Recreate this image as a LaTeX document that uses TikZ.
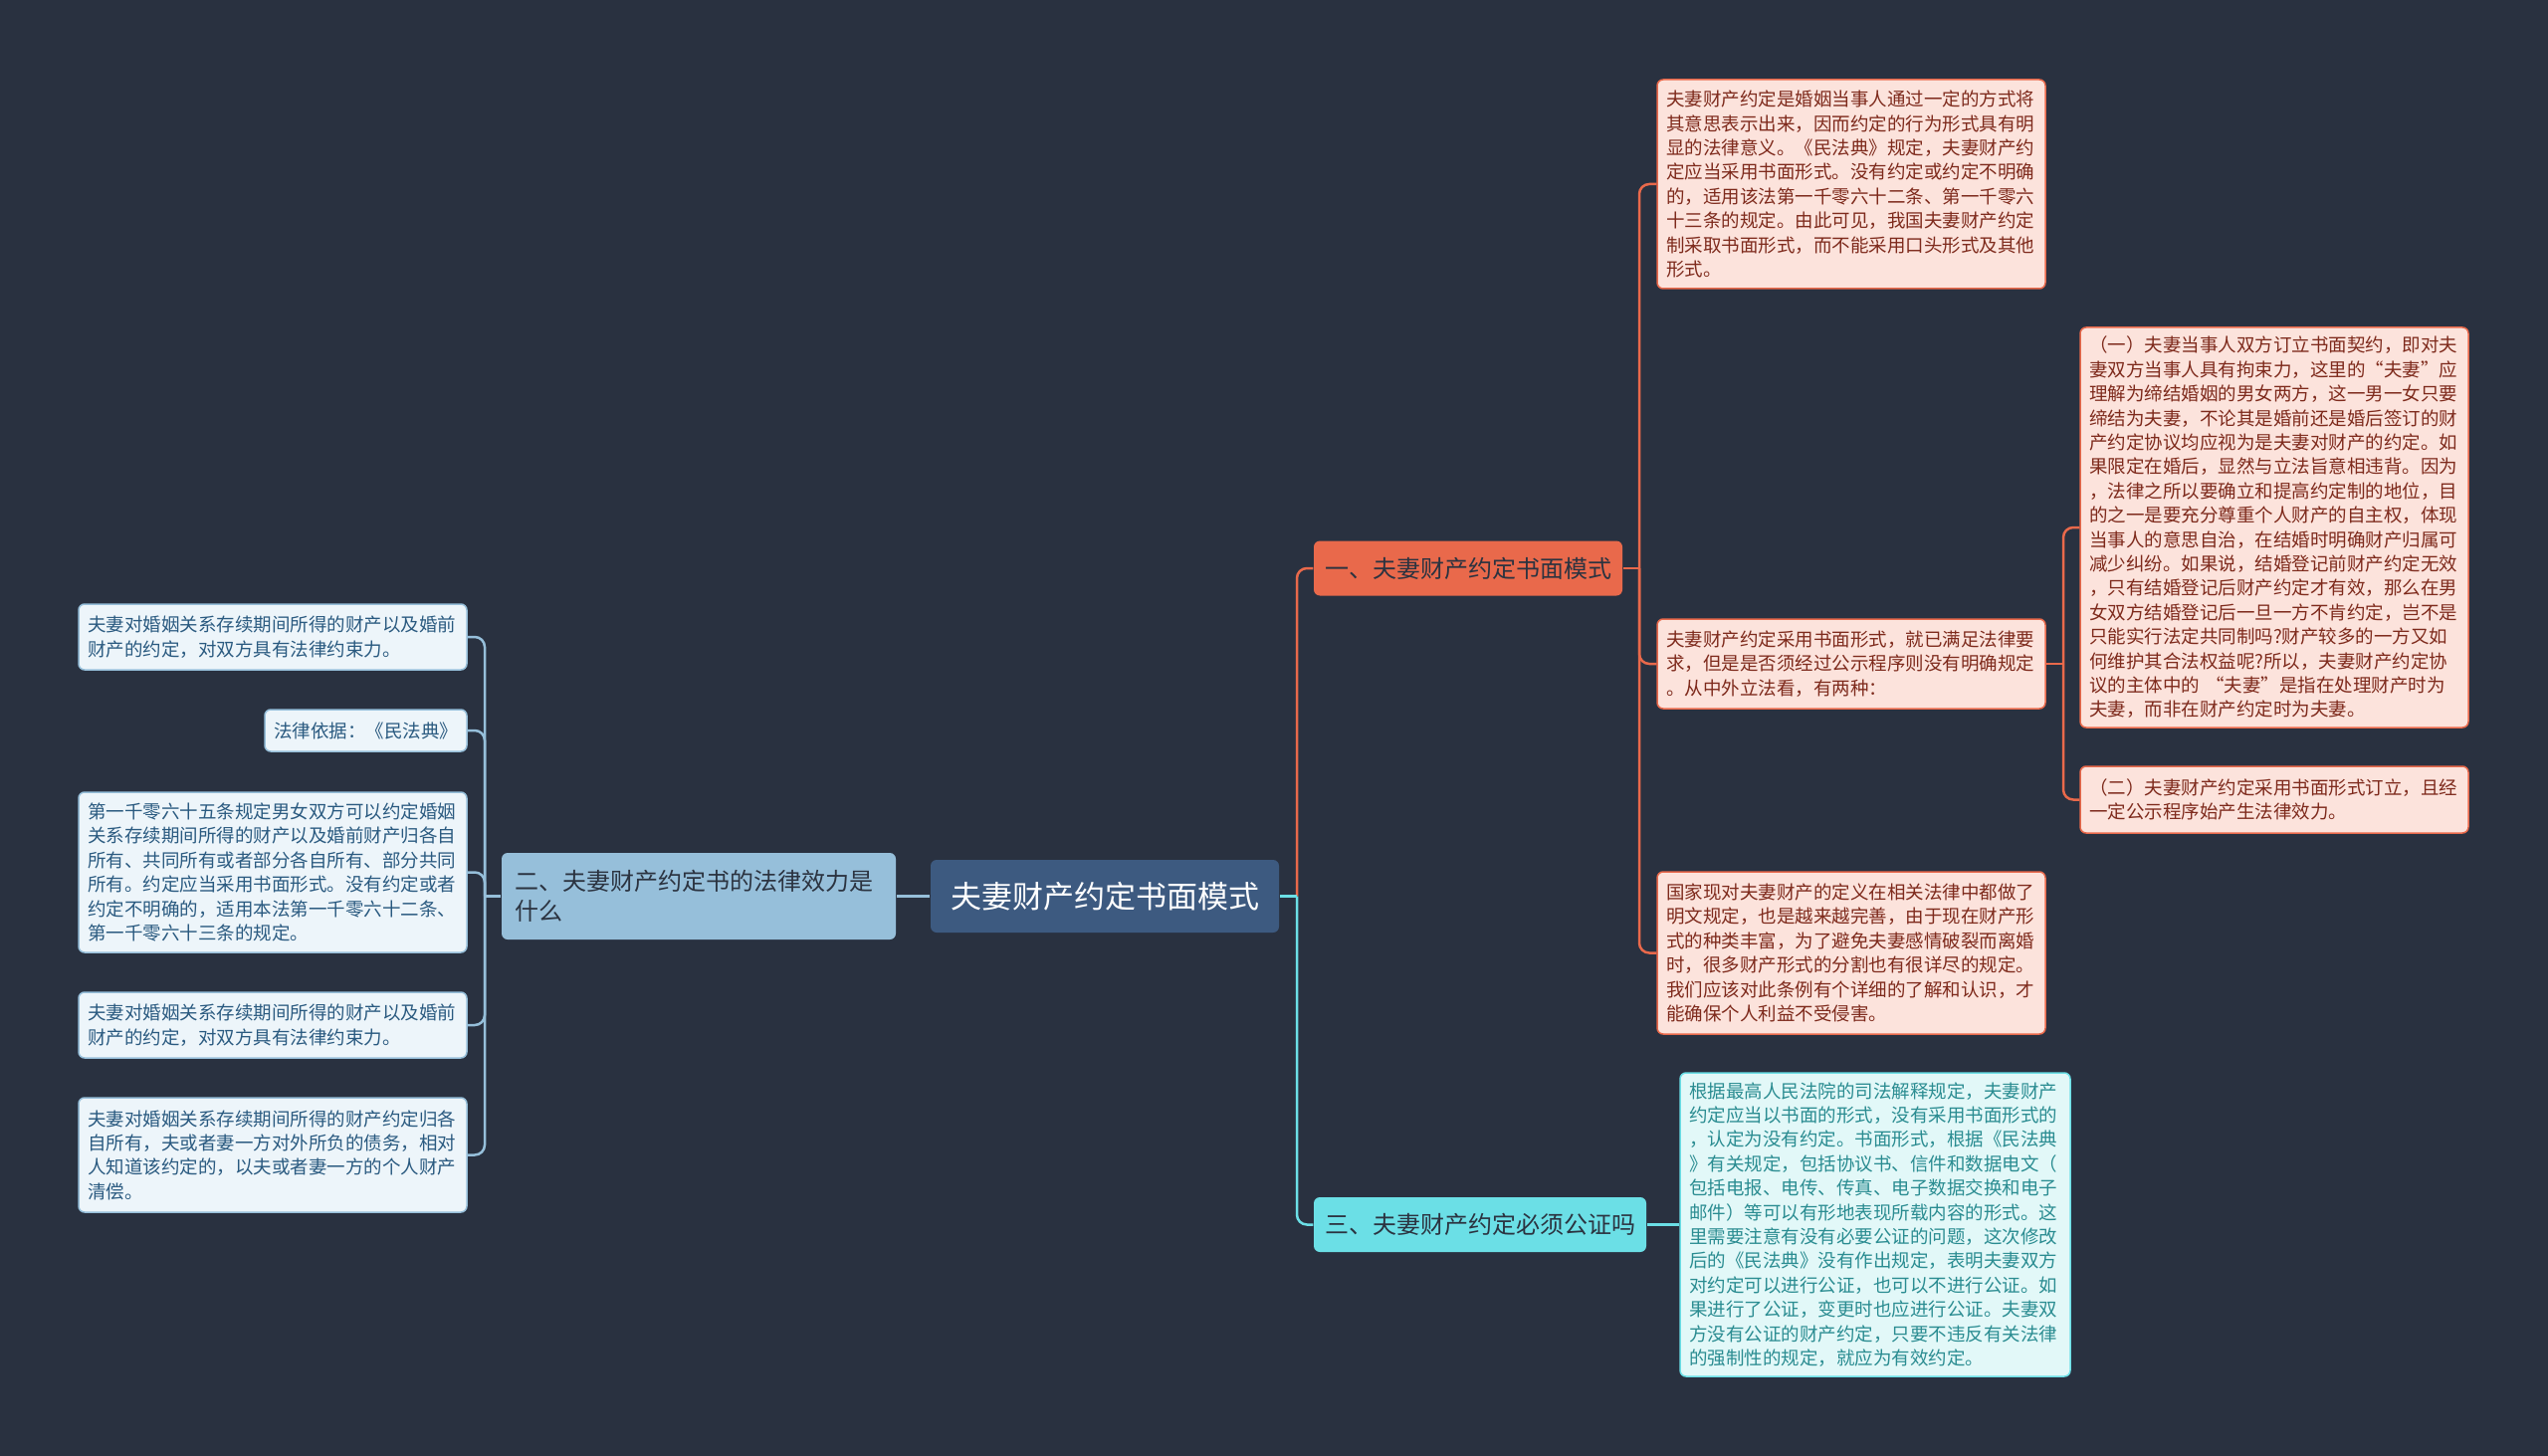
\documentclass[tikz,border=0pt]{standalone}
\usepackage{fontspec}
\setmainfont{Noto Sans CJK SC}
\definecolor{bg}{HTML}{293140}
\definecolor{cmain}{HTML}{3D5A80}
\definecolor{corg}{HTML}{E9694B}
\definecolor{corgL}{HTML}{FCE3DC}
\definecolor{corgT}{HTML}{7E2A1C}
\definecolor{cblu}{HTML}{96BFDA}
\definecolor{cbluL}{HTML}{EDF5FA}
\definecolor{cbluT}{HTML}{2A5A80}
\definecolor{ccya}{HTML}{6BDFE6}
\definecolor{ccyaL}{HTML}{E2F8F8}
\definecolor{ccyaT}{HTML}{2A8C91}
\definecolor{cdark}{HTML}{2B3340}
\newcommand\myleaffont{\fontsize{18.5}{24.4}\selectfont}
\newcommand\mybranchfont{\fontsize{24}{30}\selectfont}
\newcommand\mymainfont{\fontsize{31}{36}\selectfont}
\begin{document}
\begin{tikzpicture}[x=1pt,y=-1pt,
  box/.style={rectangle, rounded corners=6, align=left, inner xsep=9, inner ysep=0, line width=1.5},
  leafO/.style={box, draw=corg, fill=corgL, text=corgT, font=\myleaffont, minimum width=390, text width=372},
  leafB/.style={box, draw=cblu, fill=cbluL, text=cbluT, font=\myleaffont, minimum width=390, text width=372},
  leafC/.style={box, draw=ccya, fill=ccyaL, text=ccyaT, font=\myleaffont, minimum width=392, text width=374},
  mainbox/.style={box, fill=cmain, text=white, font=\mymainfont, align=center, minimum width=350, minimum height=73},
  brO/.style={box, fill=corg, text=cdark, font=\mybranchfont, align=center, minimum width=310, minimum height=55},
  brC/.style={box, fill=ccya, text=cdark, font=\mybranchfont, align=center, minimum width=334, minimum height=55},
  brB/.style={box, fill=cblu, text=cdark, font=\mybranchfont, inner xsep=13, minimum width=396, text width=370, minimum height=87},
  connO/.style={draw=corg, line width=2.5, rounded corners=10},
  connB/.style={draw=cblu, line width=2.5, rounded corners=10},
  connC/.style={draw=ccya, line width=2.5, rounded corners=10}]
\fill[bg] (0,0) rectangle (2560,1463);
\useasboundingbox (0,0) rectangle (2560,1463);

% main and branches
\node[mainbox] (c) at (1110,900.5) {夫妻财产约定书面模式};
\node[brO] (b1) at (1475,571) {一、夫妻财产约定书面模式};
\node[brC] (b3) at (1487,1230.5) {三、夫妻财产约定必须公证吗};
\node[brB] (b2) at (702,900.5) {二、夫妻财产约定书的法律效力是\\什么};

% right leaves of branch 1
\node[leafO, minimum height=210] (l1a) at (1860,185) {夫妻财产约定是婚姻当事人通过一定的方式将\\其意思表示出来，因而约定的行为形式具有明\\显的法律意义。《民法典》规定，夫妻财产约\\定应当采用书面形式。没有约定或约定不明确\\的，适用该法第一千零六十二条、第一千零六\\十三条的规定。由此可见，我国夫妻财产约定\\制采取书面形式，而不能采用口头形式及其他\\形式。};
\node[leafO, minimum height=90] (l1b) at (1860,667) {夫妻财产约定采用书面形式，就已满足法律要\\求，但是是否须经过公示程序则没有明确规定\\。从中外立法看，有两种：};
\node[leafO, minimum height=163] (l1c) at (1860,957.5) {国家现对夫妻财产的定义在相关法律中都做了\\明文规定，也是越来越完善，由于现在财产形\\式的种类丰富，为了避免夫妻感情破裂而离婚\\时，很多财产形式的分割也有很详尽的规定。\\我们应该对此条例有个详细的了解和认识，才\\能确保个人利益不受侵害。};
\node[leafO, minimum height=402] (l1b1) at (2285,530) {（一）夫妻当事人双方订立书面契约，即对夫\\妻双方当事人具有拘束力，这里的“夫妻”应\\理解为缔结婚姻的男女两方，这一男一女只要\\缔结为夫妻，不论其是婚前还是婚后签订的财\\产约定协议均应视为是夫妻对财产的约定。如\\果限定在婚后，显然与立法旨意相违背。因为\\，法律之所以要确立和提高约定制的地位，目\\的之一是要充分尊重个人财产的自主权，体现\\当事人的意思自治，在结婚时明确财产归属可\\减少纠纷。如果说，结婚登记前财产约定无效\\，只有结婚登记后财产约定才有效，那么在男\\女双方结婚登记后一旦一方不肯约定，岂不是\\只能实行法定共同制吗?财产较多的一方又如\\何维护其合法权益呢?所以，夫妻财产约定协\\议的主体中的 “夫妻”是指在处理财产时为\\夫妻，而非在财产约定时为夫妻。};
\node[leafO, minimum height=67] (l1b2) at (2285,803.5) {（二）夫妻财产约定采用书面形式订立，且经\\一定公示程序始产生法律效力。};

% cyan leaf
\node[leafC, minimum height=305] (l3) at (1884,1230.5) {根据最高人民法院的司法解释规定，夫妻财产\\约定应当以书面的形式，没有采用书面形式的\\，认定为没有约定。书面形式，根据《民法典\\》有关规定，包括协议书、信件和数据电文（\\包括电报、电传、传真、电子数据交换和电子\\邮件）等可以有形地表现所载内容的形式。这\\里需要注意有没有必要公证的问题，这次修改\\后的《民法典》没有作出规定，表明夫妻双方\\对约定可以进行公证，也可以不进行公证。如\\果进行了公证，变更时也应进行公证。夫妻双\\方没有公证的财产约定，只要不违反有关法律\\的强制性的规定，就应为有效约定。};

% left leaves
\node[leafB, minimum height=66] (l2a) at (274,640) {夫妻对婚姻关系存续期间所得的财产以及婚前\\财产的约定，对双方具有法律约束力。};
\node[leafB, minimum width=203, text width=185, minimum height=42] (l2b) at (367.5,734) {法律依据：《民法典》};
\node[leafB, minimum height=161] (l2c) at (274,876.5) {第一千零六十五条规定男女双方可以约定婚姻\\关系存续期间所得的财产以及婚前财产归各自\\所有、共同所有或者部分各自所有、部分共同\\所有。约定应当采用书面形式。没有约定或者\\约定不明确的，适用本法第一千零六十二条、\\第一千零六十三条的规定。};
\node[leafB, minimum height=66] (l2d) at (274,1030) {夫妻对婚姻关系存续期间所得的财产以及婚前\\财产的约定，对双方具有法律约束力。};
\node[leafB, minimum height=115] (l2e) at (274,1160.5) {夫妻对婚姻关系存续期间所得的财产约定归各\\自所有，夫或者妻一方对外所负的债务，相对\\人知道该约定的，以夫或者妻一方的个人财产\\清偿。};

% junction coordinates
\coordinate (jR) at (1303,900.5);
\coordinate (j1) at (1647,571);
\coordinate (j2) at (2073,667);
\coordinate (jL) at (487,900.5);

% connectors
\draw[connO] (jR) |- (b1.west);
\draw[connC] (jR) |- (b3.west);
\draw[connC] (c.east) -- (jR);
\draw[connB] (c.west) -- (b2.east);
\draw[connC] (b3.east) -- (l3.west);
\draw[connO] (b1.east) -- (j1);
\draw[connO] (j1) |- (l1a.west);
\draw[connO] (j1) |- (l1b.west);
\draw[connO] (j1) |- (l1c.west);
\draw[connO] (l1b.east) -- (j2);
\draw[connO] (j2) |- (l1b1.west);
\draw[connO] (j2) |- (l1b2.west);
\draw[connB] (b2.west) -- (jL);
\draw[connB] (jL) |- (l2a.east);
\draw[connB] (jL) |- (l2b.east);
\draw[connB] (jL) |- (l2c.east);
\draw[connB] (jL) |- (l2d.east);
\draw[connB] (jL) |- (l2e.east);
\end{tikzpicture}
\end{document}
